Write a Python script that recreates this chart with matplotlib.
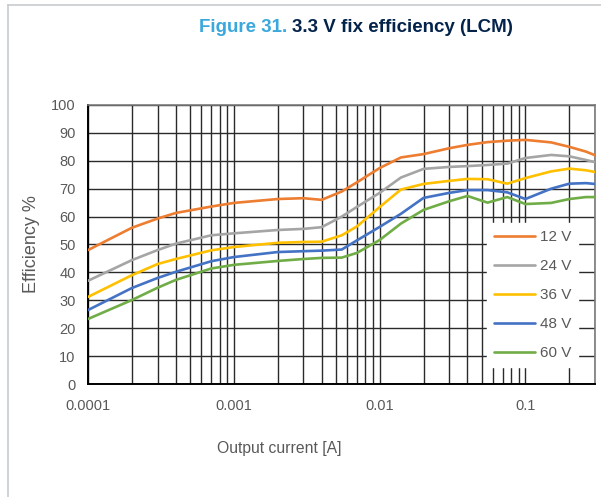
import numpy as np
import matplotlib.pyplot as plt
from matplotlib.lines import Line2D
from matplotlib.ticker import FixedLocator, NullFormatter, LogLocator

plt.rcParams['font.family'] = ['Liberation Sans', 'DejaVu Sans']

# output current [A]
current = [1e-4, 2e-4, 3e-4, 4e-4, 7e-4, 1e-3, 2e-3, 3e-3, 4e-3, 5.5e-3, 7e-3,
           1e-2, 1.4e-2, 2e-2, 3e-2, 4e-2, 5.5e-2, 7.5e-2, 0.1, 0.15, 0.2, 0.26, 0.3]

eff_12 = [48, 56, 59.3, 61.3, 63.6, 64.9, 66.3, 66.6, 66.0, 69.0, 72.3,
          77.4, 81.2, 82.4, 84.5, 85.7, 86.7, 87.2, 87.5, 86.6, 85.0, 83.3, 82.0]
eff_24 = [37, 44.4, 48, 50.3, 53.3, 54, 55.2, 55.6, 56.2, 60.0, 63.5,
          68.5, 74.0, 77.1, 77.8, 78.1, 78.5, 79.0, 81.0, 82.1, 81.6, 80.3, 79.5]
eff_36 = [31.2, 39, 43, 44.8, 47.9, 49.1, 50.6, 50.9, 51.0, 53.3, 56.5,
          63.4, 69.7, 71.7, 72.8, 73.5, 73.4, 71.8, 73.8, 76.2, 77.2, 76.6, 76.0]
eff_48 = [26.5, 34.4, 38, 40.2, 44, 45.5, 47.3, 47.6, 47.8, 48.2, 51.5,
          56.3, 61.0, 66.7, 68.5, 69.5, 69.5, 68.7, 66.3, 70.0, 71.8, 72.0, 71.7]
eff_60 = [23.3, 30.1, 34.5, 37.3, 41.4, 42.7, 44.1, 44.8, 45.2, 45.3, 47.0,
          51.6, 57.5, 62.4, 65.5, 67.4, 65.0, 67.0, 64.5, 64.9, 66.3, 67.0, 67.0]

labels = ['12 V', '24 V', '36 V', '48 V', '60 V']
colors = ['#ED7D31', '#A5A5A5', '#FFC000', '#4472C4', '#70AD47']
series = [eff_12, eff_24, eff_36, eff_48, eff_60]

xticks = [1e-4, 1e-3, 1e-2, 1e-1]
xticklabels = ['0.0001', '0.001', '0.01', '0.1']

fig = plt.figure(figsize=(6.01, 4.97), dpi=100)
ax = fig.add_axes([88/601, 113/497, 507/601, 279/497])

for y, c, lab in zip(series, colors, labels):
    ax.plot(current, y, color=c, lw=1.9, label=lab, zorder=3,
            solid_capstyle='round', solid_joinstyle='round')

ax.set_xscale('log')
ax.set_xlim(1e-4, 0.3)
ax.set_ylim(0, 100)
ax.set_yticks(range(0, 101, 10))
ax.xaxis.set_major_locator(FixedLocator(xticks))
ax.set_xticklabels(xticklabels)
ax.xaxis.set_minor_locator(LogLocator(base=10, subs=np.arange(2, 10)))
ax.xaxis.set_minor_formatter(NullFormatter())

ax.grid(True, which='both', axis='x', color='#2a2a2a', lw=1.0)
ax.grid(True, which='major', axis='y', color='#2a2a2a', lw=1.0)
ax.set_axisbelow(True)

ax.tick_params(which='both', length=0)
ax.tick_params(axis='x', pad=11, labelsize=10.5, colors='#595959')
ax.tick_params(axis='y', pad=9, labelsize=10.5, colors='#595959')

for s in ['left', 'bottom']:
    ax.spines[s].set_color('#000000')
    ax.spines[s].set_linewidth(1.4)
for s in ['top', 'right']:
    ax.spines[s].set_color('#7a7a7a')
    ax.spines[s].set_linewidth(1.2)

ax.set_xlabel('Output current [A]', fontsize=11.3, color='#595959')
ax.xaxis.set_label_coords((279 - 88) / 507, -0.205)
ax.set_ylabel('Efficiency %', fontsize=13, color='#595959', va='center')
ax.yaxis.set_label_coords((31 - 88) / 507, 0.5)

leg = ax.legend(loc='center', bbox_to_anchor=(0.877, 0.319), frameon=True,
                fontsize=11, handlelength=2.7, handletextpad=0.3,
                labelspacing=0.98, borderpad=0.45, fancybox=False)
leg.get_frame().set_facecolor('white')
leg.get_frame().set_edgecolor('white')
leg.get_frame().set_alpha(1)
for t in leg.get_texts():
    t.set_color('#595959')

# page frame
fig.add_artist(Line2D([8/601, 1], [1 - 5/497, 1 - 5/497], color='#c8ccd0', lw=1.2))
fig.add_artist(Line2D([8/601, 8/601], [0, 1 - 5/497], color='#c8ccd0', lw=1.2))

# title in two colours
t1 = fig.text(199/601, 1 - 28/497, 'Figure 31. ', color='#3AA8DC',
              fontsize=13.5, fontweight='bold', va='center', ha='left')
fig.canvas.draw()
bb = t1.get_window_extent()
fig.text(bb.x1 / fig.bbox.width, 1 - 28/497, '3.3 V fix efficiency (LCM)',
         color='#03234B', fontsize=13.5, fontweight='bold', va='center', ha='left')

fig.savefig('out.png', dpi=100)
